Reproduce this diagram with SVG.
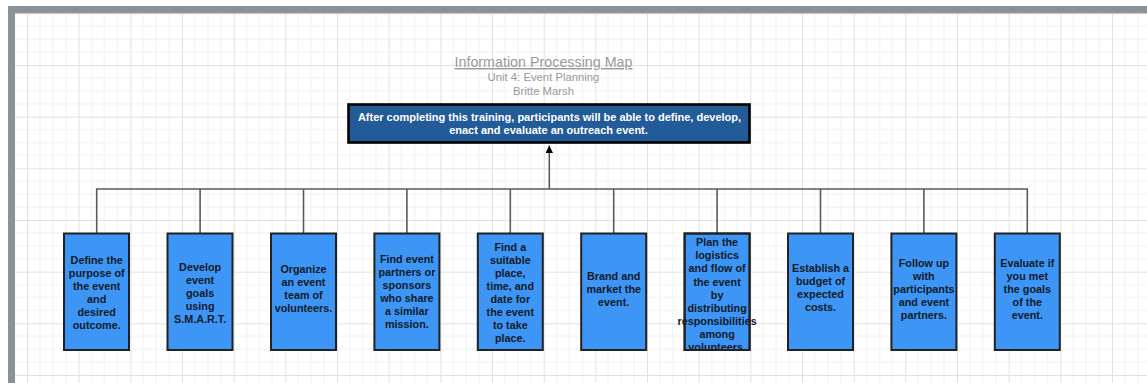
<svg xmlns="http://www.w3.org/2000/svg" width="1147" height="383" viewBox="0 0 1147 383">
  <defs>
    <pattern id="grid" patternUnits="userSpaceOnUse" x="27" y="13.33" width="51.667" height="51.667">
      <path d="M12.92 0V51.667M25.83 0V51.667M38.75 0V51.667M0 12.92H51.667M0 25.83H51.667M0 38.75H51.667" stroke="#efefef" stroke-width="1" fill="none"/>
      <path d="M0.5 0V51.667M0 0.5H51.667" stroke="#e1e1e1" stroke-width="1" fill="none"/>
    </pattern>
    <marker id="arrow" viewBox="0 0 10 10" refX="10" refY="5" markerWidth="7.5" markerHeight="7.5" markerUnits="userSpaceOnUse" orient="auto">
      <path d="M0 0L10 5L0 10Z" fill="#000"/>
    </marker>
  </defs>
  <style>
    .title { font-family: "Liberation Sans", Arial, sans-serif; fill: #9a9a9a; text-anchor: middle; }
    .goal { font-family: "Liberation Sans", Arial, sans-serif; font-weight: bold; font-size: 11px; fill: #ffffff; text-anchor: middle; }
    .step rect { fill: #3d96f6; stroke: #222222; stroke-width: 2; }
    .step text { font-family: "Liberation Sans", Arial, sans-serif; font-weight: bold; font-size: 10.8px; fill: #121a26; text-anchor: middle; }
    .conn { stroke: #5a5a5a; stroke-width: 1.6; fill: none; }
  </style>

  <!-- canvas -->
  <rect x="0" y="0" width="1147" height="383" fill="#ffffff"/>
  <rect x="15" y="13" width="1132" height="370" fill="url(#grid)"/>
  <rect x="8" y="6" width="1139" height="7.3" fill="#8b9199"/>
  <rect x="8" y="6" width="7" height="377" fill="#8b9199"/>

  <!-- heading -->
  <g id="heading">
    <text class="title" x="543.5" y="67" font-size="14.3" text-decoration="underline">Information Processing Map</text>
    <text class="title" x="543.5" y="81" font-size="11.3">Unit 4: Event Planning</text>
    <text class="title" x="543.5" y="95" font-size="11.3">Britte Marsh</text>
  </g>

  <!-- connectors -->
  <g id="connectors">
    <path class="conn" d="M96.7 233V189H1027.3V233"/>
    <path class="conn" d="M200.1 189V233M303.5 189V233M406.9 189V233M510.3 189V233M613.7 189V233M717.1 189V233M820.5 189V233M923.9 189V233"/>
    <line class="conn" x1="549.3" y1="189" x2="549.3" y2="145.5" stroke="#000" marker-end="url(#arrow)"/>
  </g>

  <!-- goal -->
  <g id="goal">
    <rect x="348.5" y="104.5" width="401" height="38" fill="#235b99" stroke="#000" stroke-width="2.6"/>
    <text class="goal" x="549.5" y="121">After completing this training, participants will be able to define, develop,</text>
    <text class="goal" x="548.5" y="134">enact and evaluate an outreach event.</text>
  </g>

  <!-- steps -->
  <g id="step1" class="step">
    <rect x="64" y="233.5" width="65" height="116.5"/>
    <text x="96.7" y="263.5">Define the</text>
    <text x="96.7" y="276.5">purpose of</text>
    <text x="96.7" y="289.5">the event</text>
    <text x="96.7" y="302.5">and</text>
    <text x="96.7" y="315.5">desired</text>
    <text x="96.7" y="328.5">outcome.</text>
  </g>
  <g id="step2" class="step">
    <rect x="167.5" y="233.5" width="65" height="116.5"/>
    <text x="200.1" y="270.5">Develop</text>
    <text x="200.1" y="283.5">event</text>
    <text x="200.1" y="296.5">goals</text>
    <text x="200.1" y="309.5">using</text>
    <text x="200.1" y="322.5">S.M.A.R.T.</text>
  </g>
  <g id="step3" class="step">
    <rect x="271" y="233.5" width="65" height="116.5"/>
    <text x="303.5" y="273">Organize</text>
    <text x="303.5" y="286">an event</text>
    <text x="303.5" y="299">team of</text>
    <text x="303.5" y="312">volunteers.</text>
  </g>
  <g id="step4" class="step">
    <rect x="374.4" y="233.5" width="65" height="116.5"/>
    <text x="406.9" y="263.3">Find event</text>
    <text x="406.9" y="276.3">partners or</text>
    <text x="406.9" y="289.3">sponsors</text>
    <text x="406.9" y="302.3">who share</text>
    <text x="406.9" y="315.3">a similar</text>
    <text x="406.9" y="328.3">mission.</text>
  </g>
  <g id="step5" class="step">
    <rect x="477.8" y="233.5" width="65" height="116.5"/>
    <text x="510.3" y="250.5">Find a</text>
    <text x="510.3" y="263.5">suitable</text>
    <text x="510.3" y="276.5">place,</text>
    <text x="510.3" y="289.5">time, and</text>
    <text x="510.3" y="302.5">date for</text>
    <text x="510.3" y="315.5">the event</text>
    <text x="510.3" y="328.5">to take</text>
    <text x="510.3" y="341.5">place.</text>
  </g>
  <g id="step6" class="step">
    <rect x="581.2" y="233.5" width="65" height="116.5"/>
    <text x="613.7" y="280">Brand and</text>
    <text x="613.7" y="293">market the</text>
    <text x="613.7" y="306">event.</text>
  </g>
  <g id="step7" class="step">
    <rect x="684.6" y="233.5" width="65" height="116.5"/>
    <text x="717.1" y="246.2">Plan the</text>
    <text x="717.1" y="259.3">logistics</text>
    <text x="717.1" y="272.4">and flow of</text>
    <text x="717.1" y="285.5">the event</text>
    <text x="717.1" y="298.6">by</text>
    <text x="717.1" y="311.7">distributing</text>
    <text x="717.1" y="324.8">responsibilities</text>
    <text x="717.1" y="337.9">among</text>
    <text x="717.1" y="351">volunteers.</text>
    <!-- outline redrawn over the overflowing last line -->
    <rect x="684.6" y="233.5" width="65" height="116.5" style="fill:none"/>
  </g>
  <g id="step8" class="step">
    <rect x="788" y="233.5" width="65" height="116.5"/>
    <text x="820.5" y="272.2">Establish a</text>
    <text x="820.5" y="285.2">budget of</text>
    <text x="820.5" y="298.2">expected</text>
    <text x="820.5" y="311.2">costs.</text>
  </g>
  <g id="step9" class="step">
    <rect x="891.4" y="233.5" width="65" height="116.5"/>
    <text x="923.9" y="267.2">Follow up</text>
    <text x="923.9" y="280.2">with</text>
    <text x="923.9" y="293.2">participants</text>
    <text x="923.9" y="306.2">and event</text>
    <text x="923.9" y="319.2">partners.</text>
  </g>
  <g id="step10" class="step">
    <rect x="994.8" y="233.5" width="65" height="116.5"/>
    <text x="1027.3" y="267.2">Evaluate if</text>
    <text x="1027.3" y="280.2">you met</text>
    <text x="1027.3" y="293.2">the goals</text>
    <text x="1027.3" y="306.2">of the</text>
    <text x="1027.3" y="319.2">event.</text>
  </g>
</svg>
